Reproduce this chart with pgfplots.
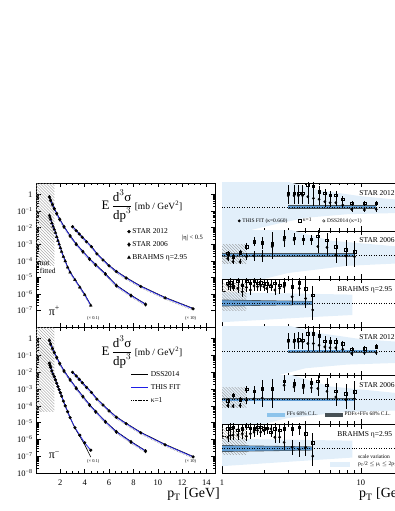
\documentclass[border=0pt]{standalone}
\usepackage{fontspec}
\setmainfont{Liberation Serif}
\usepackage{amsmath}
\usepackage{pgfplots}
\pgfplotsset{compat=1.18}
\usepackage{pgfplotstable}
\usetikzlibrary{patterns}

\definecolor{scaleblue}{RGB}{226,239,250}
\definecolor{ffblue}{RGB}{95,155,210}
\definecolor{ffleg}{RGB}{140,195,235}
\definecolor{pdfgrey}{RGB}{70,80,85}
\definecolor{fitblue}{RGB}{30,30,230}

\newcommand{\smallfont}{\fontsize{5.5}{6.5}\selectfont}
\newcommand{\labfont}{\fontsize{7.5}{9}\selectfont}

\pgfkeys{/pgf/number format/assume math mode=true}
\pgfplotsset{
  every axis/.append style={scale only axis, anchor=south west,
    axis line style={line width=0.7pt}, tick align=inside,
    major tick length=4.5bp, minor tick length=2.5bp,
    tick style={black, line width=0.5pt},
    tick label style={font=\fontsize{8.5}{9}\selectfont}},
}

% ---------- cross sections (pi+) ----------
\pgfplotstableread{
pt y
1.1 0.0550
1.15 0.0417
1.2 0.0316
1.3 0.0191
1.4 0.0120
1.5 7.94e-3
1.6 5.01e-3
1.7 2.82e-3
1.8 1.66e-3
1.9 1.0e-3
2.0 6.03e-4
2.1 3.55e-4
2.25 1.78e-4
2.4 9.55e-5
2.6 3.98e-5
2.8 2.0e-5
3.2 7.08e-6
3.6 2.51e-6
4.0 8.91e-7
4.5 2.0e-7
}\brahmsP
\pgfplotstableread{
pt y
1.1 0.708
1.2 0.447
1.35 0.251
1.5 0.141
1.7 0.0708
1.95 0.0316
2.3 0.0112
2.8 3.16e-3
3.3 1.0e-3
3.85 3.55e-4
4.4 1.26e-4
4.9 5.62e-5
5.7 1.58e-5
6.6 3.16e-6
7.8 7.94e-7
9.0 2.29e-7
}\starsixP
\pgfplotstableread{
pt y
3.0 0.0115
3.3 6.61e-3
3.55 4.17e-3
3.8 2.63e-3
4.15 1.41e-3
4.55 7.08e-4
5.0 2.63e-4
5.5 1.12e-4
6.0 5.01e-5
6.6 2.24e-5
7.4 9.12e-6
8.6 2.82e-6
10.6 5.75e-7
12.9 1.26e-7
}\startwelveP

% ---------- cross sections (pi-) ----------
\pgfplotstableread{
pt y dss
1.1 0.0347 0.0347
1.15 0.0263 0.0263
1.2 0.0200 0.0200
1.3 0.0120 0.0120
1.4 7.94e-3 7.94e-3
1.5 5.50e-3 5.50e-3
1.6 3.55e-3 3.55e-3
1.7 2.24e-3 2.24e-3
1.8 1.41e-3 1.41e-3
1.9 9.33e-4 9.33e-4
2.0 6.03e-4 6.03e-4
2.1 3.80e-4 3.80e-4
2.25 1.91e-4 1.91e-4
2.4 1.0e-4 1.0e-4
2.6 4.47e-5 4.47e-5
2.8 2.0e-5 1.9e-5
3.2 5.01e-6 4.47e-6
3.6 1.78e-6 1.41e-6
4.0 6.31e-7 4.47e-7
4.5 2.29e-7 8.32e-8
}\brahmsM
\pgfplotstableread{
pt y
1.1 0.794
1.2 0.479
1.35 0.263
1.5 0.151
1.7 0.0759
1.95 0.0331
2.3 0.0120
2.8 3.55e-3
3.3 1.12e-3
3.85 3.55e-4
4.4 1.12e-4
4.9 4.47e-5
5.7 1.12e-5
6.6 2.82e-6
7.8 7.08e-7
9.0 2.0e-7
}\starsixM
\pgfplotstableread{
pt y
3.0 0.0100
3.3 6.03e-3
3.55 3.80e-3
3.8 2.40e-3
4.15 1.26e-3
4.55 6.31e-4
5.0 2.51e-4
5.5 1.12e-4
6.0 5.01e-5
6.6 2.09e-5
7.4 8.71e-6
8.6 2.51e-6
10.6 4.79e-7
12.9 9.12e-8
}\startwelveM

% ---------- data / theory ----------
\pgfplotstableread{
pt fit efit k1 ek1
3.0 1.47 0.35 1.57 0.35
3.3 1.47 0.35 1.57 0.35
3.55 1.47 0.35 1.57 0.35
3.8 1.47 0.35 1.57 0.35
4.15 1.43 0.3 1.92 0.3
4.55 1.36 0.3 1.875 0.3
5.0 1.32 0.25 1.64 0.25
5.5 1.22 0.2 1.57 0.2
6.0 1.18 0.18 1.5 0.18
6.6 1.18 0.15 1.5 0.15
7.4 1.08 0.12 1.32 0.12
8.6 0.9 0.1 1.15 0.1
10.6 0.875 0.1 1.15 0.1
12.9 0.9 0.1 1.15 0.1
}\rtwelveP
\pgfplotstableread{
pt fit efit k1 ek1
1.1 0.86 0.1 1.07 0.1
1.2 0.72 0.1 0.93 0.1
1.35 0.72 0.1 1.10 0.1
1.5 0.93 0.15 1.35 0.15
1.7 0.96 0.2 1.56 0.2
1.95 0.96 0.25 1.51 0.25
2.3 1.35 0.5 1.46 0.5
2.8 1.625 0.3 1.74 0.3
3.3 1.625 0.2 1.70 0.2
3.85 1.625 0.2 1.65 0.2
4.4 1.625 0.2 1.65 0.2
4.9 1.35 0.25 1.79 0.25
5.7 1.32 0.3 1.625 0.3
6.6 1.0 0.35 1.35 0.35
7.8 0.96 0.4 1.21 0.4
9.0 0.93 0.45 1.14 0.45
}\rsixP
\pgfplotstableread{
pt fit efit k1 ek1
1.1 1.75 0.2 1.82 0.2
1.15 1.68 0.2 1.85 0.2
1.2 1.82 0.2 1.68 0.2
1.3 1.61 0.2 1.9 0.2
1.4 1.47 0.2 1.75 0.2
1.5 1.65 0.2 1.9 0.2
1.6 1.54 0.2 1.82 0.2
1.7 1.71 0.2 1.9 0.2
1.8 1.68 0.2 1.82 0.2
1.9 1.71 0.2 1.85 0.2
2.0 1.68 0.2 1.82 0.2
2.1 1.61 0.2 1.8 0.2
2.25 1.75 0.2 1.7 0.2
2.4 1.54 0.2 1.82 0.2
2.6 1.61 0.25 1.75 0.25
2.8 1.68 0.25 1.8 0.25
3.2 1.26 0.35 1.68 0.35
3.6 1.61 0.3 1.85 0.3
4.0 1.19 0.4 1.6 0.4
4.5 0.71 0.4 1.32 0.4
}\rbrahmsP
\pgfplotstableread{
pt fit efit k1 ek1
3.0 1.39 0.3 1.46 0.3
3.3 1.39 0.3 1.46 0.3
3.55 1.39 0.3 1.48 0.3
3.8 1.39 0.3 1.46 0.3
4.15 1.32 0.3 1.73 0.3
4.55 1.32 0.3 1.73 0.3
5.0 1.25 0.25 1.64 0.25
5.5 1.18 0.2 1.41 0.2
6.0 1.14 0.18 1.39 0.18
6.6 1.14 0.15 1.39 0.15
7.4 1.08 0.12 1.32 0.12
8.6 0.90 0.1 1.08 0.1
10.6 0.94 0.1 1.11 0.1
12.9 0.94 0.1 1.18 0.1
}\rtwelveM
\pgfplotstableread{
pt fit efit k1 ek1
1.1 0.76 0.1 0.97 0.1
1.2 0.74 0.1 1.18 0.1
1.35 0.76 0.1 1.01 0.1
1.5 0.97 0.15 1.43 0.15
1.7 1.04 0.2 1.35 0.2
1.95 1.07 0.35 1.46 0.35
2.3 1.04 0.4 1.46 0.4
2.8 1.60 0.25 1.76 0.25
3.3 1.53 0.2 1.67 0.2
3.85 1.49 0.25 1.60 0.25
4.4 1.49 0.2 1.71 0.2
4.9 1.46 0.3 1.76 0.3
5.7 1.35 0.3 1.60 0.3
6.6 1.11 0.35 1.35 0.35
7.8 1.0 0.4 1.25 0.4
9.0 1.04 0.45 1.32 0.45
}\rsixM
\pgfplotstableread{
pt fit efit k1 ek1
1.1 1.46 0.2 1.8 0.2
1.15 1.53 0.2 1.83 0.2
1.2 1.55 0.2 1.87 0.2
1.3 1.55 0.2 1.74 0.2
1.4 1.6 0.2 1.8 0.2
1.5 1.5 0.2 1.94 0.2
1.6 1.6 0.2 1.83 0.2
1.7 1.67 0.2 1.8 0.2
1.8 1.74 0.2 1.87 0.2
1.9 1.67 0.2 1.87 0.2
2.0 1.74 0.2 1.8 0.2
2.1 1.8 0.2 1.83 0.2
2.25 1.8 0.2 1.67 0.2
2.4 1.46 0.25 1.8 0.25
2.6 1.46 0.25 1.74 0.25
2.8 1.25 0.3 1.8 0.3
3.2 1.05 0.3 1.8 0.3
3.6 0.97 0.3 1.87 0.3
4.0 1.05 0.35 1.6 0.35
4.5 0.69 0.4 1.23 0.4
}\rbrahmsM

% data points of one ratio panel
\newcommand{\ratiopts}[1]{%
  \addplot[only marks, mark=square, mark size=1.3pt, black, line width=0.4pt,
    error bars/.cd, y dir=both, y explicit, error mark=none,
    error bar style={line width=0.5pt}] table[x=pt, y=k1, y error=ek1] {#1};
  \addplot[only marks, mark=*, mark size=1.2pt, black,
    error bars/.cd, y dir=both, y explicit, error mark=none,
    error bar style={line width=0.5pt}] table[x=pt, y=fit, y error=efit] {#1};
}
% theory curves of one series
\newcommand{\curves}[2]{%
  \addplot[gray, densely dotted, line width=0.6pt, yshift=-1.3bp] table[x=pt, y=y] {#1};
  \addplot[black, line width=0.6pt, yshift=0.5bp] table[x=pt, y=#2] {#1};
  \addplot[fitblue, line width=0.7pt] table[x=pt, y=y] {#1};
}

\begin{document}
\begin{tikzpicture}
\path[use as bounding box] (0bp,0bp) rectangle (395bp,511bp);
\clip (0bp,0bp) rectangle (395bp,511bp);

% ================= left: pi+ =================
\begin{axis}[at={(36bp,184bp)}, width=179bp, height=144bp,
  xmin=0, xmax=14.7, ymode=log, ymin=1e-8, ymax=5,
  xtick={2,4,...,14}, minor x tick num=3, xticklabels={},
  ytick={1e-7,1e-6,1e-5,1e-4,1e-3,1e-2,1e-1,1},
  yticklabels={10\textsuperscript{−7},10\textsuperscript{−6},10\textsuperscript{−5},10\textsuperscript{−4},10\textsuperscript{−3},10\textsuperscript{−2},10\textsuperscript{−1},1},
  legend style={at={(rel axis cs:0.51,0.70)}, anchor=north west, draw=none, fill=none,
    font=\labfont, row sep=2.5bp, inner sep=0pt},
  legend cell align=left]
\addlegendimage{only marks, mark=*, mark size=1.5pt, black}
\addlegendentry{STAR 2012}
\addlegendimage{only marks, mark=diamond*, mark size=1.9pt, black}
\addlegendentry{STAR 2006}
\addlegendimage{only marks, mark=triangle*, mark size=1.7pt, black}
\addlegendentry{BRAHMS η=2.95}
\addplot[pattern=north west lines, pattern color=gray!80, draw=none]
  coordinates {(0,5.5e-5) (1.5,5.5e-5) (1.5,10) (0,10)} -- cycle;
\curves{\brahmsP}{y}
\curves{\starsixP}{y}
\curves{\startwelveP}{y}
\addplot[only marks, mark=triangle*, mark size=1.6pt, black] table[x=pt, y=y] {\brahmsP};
\addplot[only marks, mark=diamond*, mark size=1.8pt, black] table[x=pt, y=y] {\starsixP};
\addplot[only marks, mark=*, mark size=1.4pt, black] table[x=pt, y=y] {\startwelveP};
\node[anchor=center] at (axis cs:8.7,0.2)
  {\fontsize{13}{14}\selectfont E\,$\dfrac{\text{d}^{3}\text{σ}}{\text{dp}^{3}}$\,{\fontsize{9.5}{10}\selectfont [mb / GeV\textsuperscript{2}]}};
\node[anchor=west, font=\fontsize{6.5}{7}\selectfont] at (axis cs:11.7,2.4e-3) {|η| < 0.5};
\node[anchor=north west, align=left, inner sep=0pt, font=\fontsize{7.5}{8}\selectfont] at (axis cs:0.3,9.5e-5) {not\\fitted};
\node[font=\fontsize{12}{13}\selectfont] at (axis cs:1.5,9.3e-8) {π\textsuperscript{+}};
\node[font=\fontsize{4.5}{5}\selectfont] at (axis cs:4.7,3.5e-8) {(× 0.1)};
\node[font=\fontsize{4.5}{5}\selectfont] at (axis cs:12.7,3.5e-8) {(× 10)};
\end{axis}

% ================= left: pi- =================
\begin{axis}[at={(36bp,38bp)}, width=179bp, height=146bp,
  xmin=0, xmax=14.7, ymode=log, ymin=1e-8, ymax=5,
  xtick={2,4,...,14}, minor x tick num=3, xticklabel style={yshift=-3bp},
  ytick={1e-8,1e-7,1e-6,1e-5,1e-4,1e-3,1e-2,1e-1,1},
  yticklabels={10\textsuperscript{−8},10\textsuperscript{−7},10\textsuperscript{−6},10\textsuperscript{−5},10\textsuperscript{−4},10\textsuperscript{−3},10\textsuperscript{−2},10\textsuperscript{−1},1},
  legend style={at={(rel axis cs:0.53,0.71)}, anchor=north west, draw=none, fill=none,
    font=\labfont, row sep=2.5bp, inner sep=0pt},
  legend cell align=left]
\addlegendimage{black, line width=0.7pt}
\addlegendentry{DSS2014}
\addlegendimage{fitblue, line width=0.7pt}
\addlegendentry{THIS FIT}
\addlegendimage{black, densely dotted, line width=0.6pt}
\addlegendentry{κ=1}
\addplot[pattern=north west lines, pattern color=gray!80, draw=none]
  coordinates {(0,4.5e-5) (1.5,4.5e-5) (1.5,10) (0,10)} -- cycle;
\curves{\brahmsM}{dss}
\curves{\starsixM}{y}
\curves{\startwelveM}{y}
\addplot[only marks, mark=*, mark size=1.4pt, black] table[x=pt, y=y] {\brahmsM};
\addplot[only marks, mark=diamond*, mark size=1.8pt, black] table[x=pt, y=y] {\starsixM};
\addplot[only marks, mark=*, mark size=1.4pt, black] table[x=pt, y=y] {\startwelveM};
\node[anchor=center] at (axis cs:8.7,0.16)
  {\fontsize{13}{14}\selectfont E\,$\dfrac{\text{d}^{3}\text{σ}}{\text{dp}^{3}}$\,{\fontsize{9.5}{10}\selectfont [mb / GeV\textsuperscript{2}]}};
\node[font=\fontsize{12}{13}\selectfont] at (axis cs:1.5,1.2e-7) {π\textsuperscript{−}};
\node[font=\fontsize{4.5}{5}\selectfont] at (axis cs:4.7,4.6e-8) {(× 0.1)};
\node[font=\fontsize{4.5}{5}\selectfont] at (axis cs:12.7,4.6e-8) {(× 10)};
\end{axis}
\node[anchor=north east, inner sep=0pt, font=\fontsize{14}{15}\selectfont] at (220bp,23bp) {p\textsubscript{T} [GeV]};

% ================= right: ratios pi+ =================
% STAR 2012
\begin{axis}[at={(222bp,280bp)}, width=201bp, height=48bp,
  xmode=log, xmin=1, xmax=28, xtick={1,10}, minor xtick={2,3,4,5,6,7,8,9,20},
  ymin=0, ymax=2, ytick={0.5,1,1.5}, minor y tick num=4, yticklabels={}, xticklabels={},
  legend style={at={(axis cs:1.3,0.42)}, anchor=west, draw=none, fill=none,
    font=\smallfont, inner sep=0pt, legend columns=3,
    /tikz/every even column/.append style={column sep=9bp}},
  legend image code/.code={\draw[#1] plot coordinates {(0.12cm,0cm)};}]
\addlegendimage{only marks, mark=*, mark size=1.2pt, black}
\addlegendentry{THIS FIT (κ=0.660)}
\addlegendimage{only marks, mark=square, mark size=1.3pt, black}
\addlegendentry{κ=1}
\addlegendimage{only marks, mark=o, mark size=1.3pt, black}
\addlegendentry{DSS2014 (κ=1)}
\addplot[fill=scaleblue, draw=none] coordinates {(1,2.2) (2.4,2.2) (5,1.7) (10,1.45) (18.7,1.3) (28,1.26) (28,0.74) (18.7,0.75) (8,0.7) (4,0.55) (2.5,0.3) (1.5,0) (1,0)} -- cycle;
\addplot[fill=pdfgrey, draw=none] coordinates {(3,0.93) (12.9,0.93) (12.9,1.07) (3,1.07)} -- cycle;
\addplot[fill=ffblue, draw=none] coordinates {(3,0.95) (12.9,0.95) (12.9,1.05) (3,1.05)} -- cycle;
\addplot[black, dotted, line width=0.5pt] coordinates {(1,1) (28,1)};
\ratiopts{\rtwelveP}
\node[anchor=west, font=\labfont] at (axis cs:9.2,1.58) {STAR 2012};
\end{axis}

% STAR 2006
\begin{axis}[at={(222bp,232bp)}, width=201bp, height=48bp,
  xmode=log, xmin=1, xmax=28, xtick={1,10}, minor xtick={2,3,4,5,6,7,8,9,20},
  ymin=0, ymax=2, ytick={0.5,1,1.5}, minor y tick num=4, yticklabels={}, xticklabels={}]
\addplot[fill=scaleblue, draw=none] coordinates {(1,2.2) (2.5,2.2) (6,1.6) (18.7,1.35) (28,1.3) (28,0.63) (18.7,0.65) (8,0.55) (3,0.25) (2,0) (1,0)} -- cycle;
\addplot[pattern=north west lines, pattern color=gray!80, draw=none] coordinates {(1,0.65) (1.5,0.65) (1.5,1.42) (1,1.42)} -- cycle;
\addplot[fill=pdfgrey, draw=none] coordinates {(1,0.93) (9,0.93) (9,1.07) (1,1.07)} -- cycle;
\addplot[fill=ffblue, draw=none] coordinates {(1,0.95) (9,0.95) (9,1.05) (1,1.05)} -- cycle;
\addplot[black, dotted, line width=0.5pt] coordinates {(1,1) (28,1)};
\ratiopts{\rsixP}
\node[anchor=west, font=\labfont] at (axis cs:9.2,1.62) {STAR 2006};
\end{axis}

% BRAHMS
\begin{axis}[at={(222bp,184bp)}, width=201bp, height=48bp,
  xmode=log, xmin=1, xmax=28, xtick={1,10}, minor xtick={2,3,4,5,6,7,8,9,20},
  ymin=0, ymax=2, ytick={0.5,1,1.5}, minor y tick num=4, yticklabels={}, xticklabels={}]
\addplot[fill=scaleblue, draw=none] coordinates {(1,1.45) (8.7,1.35) (8.7,0.5) (4,0.4) (1,0.2)} -- cycle;
\addplot[pattern=north west lines, pattern color=gray!80, draw=none] coordinates {(1,0.7) (1.5,0.7) (1.5,1.82) (1,1.82)} -- cycle;
\addplot[fill=pdfgrey, draw=none] coordinates {(1,0.86) (4.5,0.92) (4.5,1.08) (1,1.14)} -- cycle;
\addplot[fill=ffblue, draw=none] coordinates {(1,0.89) (4.5,0.94) (4.5,1.06) (1,1.11)} -- cycle;
\addplot[black, dotted, line width=0.5pt] coordinates {(1,1) (28,1)};
\ratiopts{\rbrahmsP}
\node[anchor=west, font=\labfont] at (axis cs:6.4,1.54) {BRAHMS η=2.95};
\end{axis}

% ================= right: ratios pi- =================
% STAR 2012
\begin{axis}[at={(222bp,135.5bp)}, width=201bp, height=48.5bp,
  xmode=log, xmin=1, xmax=28, xtick={1,10}, minor xtick={2,3,4,5,6,7,8,9,20},
  ymin=0, ymax=2, ytick={0.5,1,1.5}, minor y tick num=4, yticklabels={}, xticklabels={}]
\addplot[fill=scaleblue, draw=none] coordinates {(1,2.2) (2.4,2.2) (5,1.75) (10,1.5) (18.7,1.39) (28,1.35) (28,0.52) (18.7,0.52) (8,0.45) (4,0.3) (2.5,0) (1,0)} -- cycle;
\addplot[fill=pdfgrey, draw=none] coordinates {(3,0.93) (12.9,0.93) (12.9,1.07) (3,1.07)} -- cycle;
\addplot[fill=ffblue, draw=none] coordinates {(3,0.95) (12.9,0.95) (12.9,1.05) (3,1.05)} -- cycle;
\addplot[black, dotted, line width=0.5pt] coordinates {(1,1) (28,1)};
\ratiopts{\rtwelveM}
\node[anchor=west, font=\labfont] at (axis cs:9.2,1.57) {STAR 2012};
\end{axis}

% STAR 2006
\begin{axis}[at={(222bp,87bp)}, width=201bp, height=48.5bp,
  xmode=log, xmin=1, xmax=28, xtick={1,10}, minor xtick={2,3,4,5,6,7,8,9,20},
  ymin=0, ymax=2, ytick={0.5,1,1.5}, minor y tick num=4, yticklabels={}, xticklabels={},
  legend style={at={(axis cs:2.1,0.375)}, anchor=west, draw=none, fill=none,
    font=\smallfont, inner sep=0pt, legend columns=2,
    /tikz/every even column/.append style={column sep=5bp}},
  legend image code/.code={\fill[#1] (0bp,-2.3bp) rectangle (18bp,2.3bp);}]
\addlegendimage{fill=ffleg, draw=none}
\addlegendentry{FFs 68\% C.L.}
\addlegendimage{fill=pdfgrey, draw=none}
\addlegendentry{PDFs+FFs 68\% C.L.}
\addplot[fill=scaleblue, draw=none] coordinates {(1,2.2) (2.5,2.2) (6,1.55) (18.7,1.27) (28,1.25) (28,0.55) (18.7,0.56) (8,0.5) (3,0.25) (2,0) (1,0)} -- cycle;
\addplot[pattern=north west lines, pattern color=gray!80, draw=none] coordinates {(1,0.7) (1.5,0.7) (1.5,1.5) (1,1.5)} -- cycle;
\addplot[fill=pdfgrey, draw=none] coordinates {(1,0.93) (9,0.93) (9,1.07) (1,1.07)} -- cycle;
\addplot[fill=ffblue, draw=none] coordinates {(1,0.95) (9,0.95) (9,1.05) (1,1.05)} -- cycle;
\addplot[black, dotted, line width=0.5pt] coordinates {(1,1) (28,1)};
\ratiopts{\rsixM}
\node[anchor=west, font=\labfont] at (axis cs:9.2,1.6) {STAR 2006};
\end{axis}

% BRAHMS
\begin{axis}[at={(222bp,38bp)}, width=201bp, height=49bp,
  xmode=log, xmin=1, xmax=28, xtick={1,10}, minor xtick={2,3,4,5,6,7,8,9,20},
  ymin=0, ymax=2, ytick={0.5,1,1.5}, minor y tick num=4, yticklabels={},
  xticklabels={1,10}, xticklabel style={yshift=-3bp}]
\addplot[fill=scaleblue, draw=none] coordinates {(1,1.4) (8.7,1.32) (8.7,0.63) (1,0.28)} -- cycle;
\addplot[pattern=north west lines, pattern color=gray!80, draw=none] coordinates {(1,0.76) (1.5,0.76) (1.5,1.8) (1,1.8)} -- cycle;
\addplot[fill=pdfgrey, draw=none] coordinates {(1,0.86) (4.5,0.92) (4.5,1.08) (1,1.14)} -- cycle;
\addplot[fill=ffblue, draw=none] coordinates {(1,0.89) (4.5,0.94) (4.5,1.06) (1,1.11)} -- cycle;
\addplot[black, dotted, line width=0.5pt] coordinates {(1,1) (28,1)};
\ratiopts{\rbrahmsM}
\addplot[fill=scaleblue, draw=none] coordinates {(6.0,0.25) (8.3,0.25) (8.3,0.44) (6.0,0.44)} -- cycle;
\node[anchor=west, font=\labfont] at (axis cs:6.4,1.55) {BRAHMS η=2.95};
\node[anchor=west, align=left, font=\smallfont] at (axis cs:9.0,0.5) {scale variation\\p\textsubscript{T}/2 $\le$ μ\textsubscript{i} $\le$ 2p\textsubscript{T}};
\end{axis}
\node[anchor=north west, inner sep=0pt, font=\fontsize{14}{15}\selectfont] at (359bp,23bp) {p\textsubscript{T} [GeV]};
\end{tikzpicture}
\end{document}
